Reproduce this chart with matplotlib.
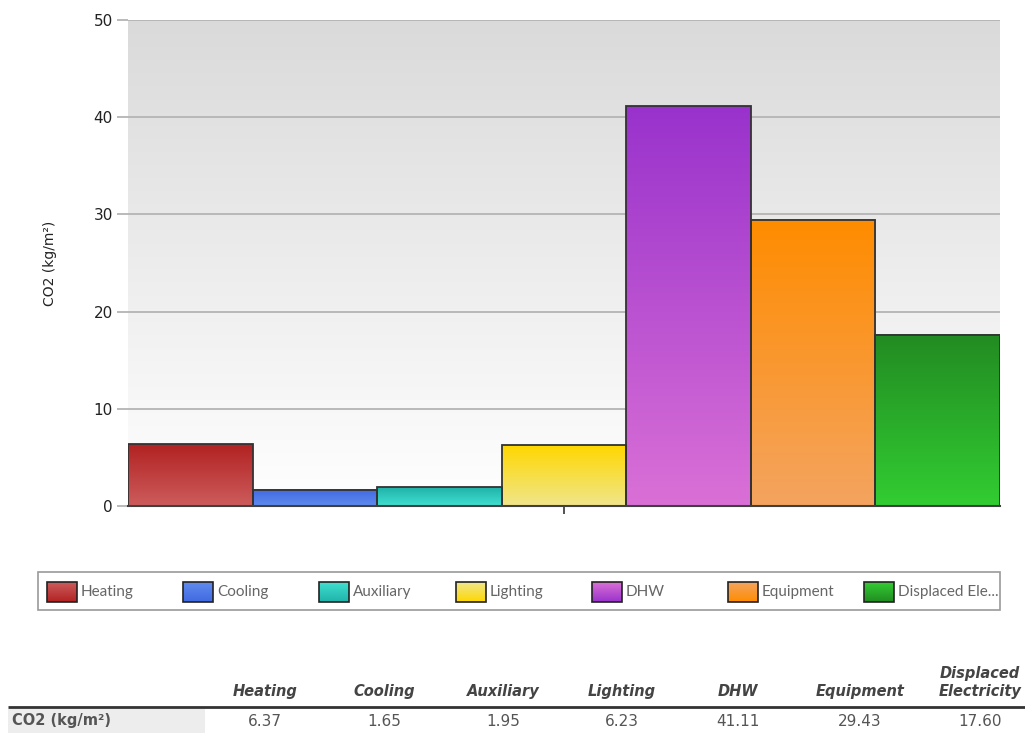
import numpy as np
import matplotlib
matplotlib.use("Agg")
import matplotlib.pyplot as plt
from matplotlib.colors import LinearSegmentedColormap

categories = ["Heating", "Cooling", "Auxiliary", "Lighting", "DHW", "Equipment", "Displaced Electricity"]
values = [6.37, 1.65, 1.95, 6.23, 41.11, 29.43, 17.60]
value_labels = ["6.37", "1.65", "1.95", "6.23", "41.11", "29.43", "17.60"]
top_colors = ["#b22222", "#4169e1", "#20b2aa", "#ffd700", "#9932cc", "#ff8c00", "#228b22"]
bottom_colors = ["#cd5c5c", "#5f8cef", "#40e0d0", "#f0e68c", "#da70d6", "#f4a460", "#32cd32"]
yticks = [0, 10, 20, 30, 40, 50]
ylabel = "CO2 (kg/m²)"
row_label = "CO2 (kg/m²)"

W, H = 1025, 733
fig = plt.figure(figsize=(W / 100, H / 100), dpi=100)
fig.patch.set_facecolor("white")

ax = fig.add_axes([128 / W, 1 - 506 / H, (1000 - 128) / W, (506 - 20) / H])
ax.set_xlim(-0.5, len(categories) - 0.5)
ax.set_ylim(0, 50)

# background gradient
bg = LinearSegmentedColormap.from_list("bg", ["#ffffff", "#dadada"])
grad = np.linspace(0, 1, 256).reshape(-1, 1)
ax.imshow(grad, extent=(-0.5, len(categories) - 0.5, 0, 50), origin="lower",
          cmap=bg, aspect="auto", zorder=0)

for y in yticks[1:]:
    ax.axhline(y, color="#b4b4b4", lw=1.3, zorder=1)

x = np.arange(len(categories))
bars = ax.bar(x, values, width=1.0, facecolor="none", edgecolor="#333333", lw=1.3, zorder=4)
for b, v, ct, cb in zip(bars, values, top_colors, bottom_colors):
    cm = LinearSegmentedColormap.from_list("g", [cb, ct])
    ax.imshow(grad, extent=(b.get_x(), b.get_x() + b.get_width(), 0, v), origin="lower",
              cmap=cm, aspect="auto", zorder=3)
ax.set_xlim(-0.5, len(categories) - 0.5)
ax.set_ylim(0, 50)

for s in ["top", "right", "left"]:
    ax.spines[s].set_visible(False)
ax.spines["bottom"].set_color("#404040")
ax.spines["bottom"].set_linewidth(1.5)
ax.spines["bottom"].set_zorder(5)

ax.set_yticks(yticks)
ax.set_yticklabels([str(t) for t in yticks], fontsize=11, color="#222222")
ax.tick_params(axis="y", length=8, width=1.3, color="#b4b4b4", pad=3)
ax.set_xticks([(len(categories) - 1) / 2])
ax.set_xticklabels([""])
ax.tick_params(axis="x", length=6, width=1.2, color="#333333")
ax.set_ylabel(ylabel, fontsize=10, color="#222222", labelpad=26)

# overlay for legend and table (pixel coordinates)
ov = fig.add_axes([0, 0, 1, 1], zorder=10)
ov.set_xlim(0, W)
ov.set_ylim(H, 0)
ov.axis("off")
ov.patch.set_alpha(0)

# legend box
ov.add_patch(plt.Rectangle((38, 572), 962, 38, facecolor="white", edgecolor="#9a9a9a", lw=1.2))
for i, (c, ct, cb) in enumerate(zip(categories, top_colors, bottom_colors)):
    x0 = 47 + i * 136.2
    cm = LinearSegmentedColormap.from_list("g", [ct, cb])
    ov.imshow(grad, extent=(x0, x0 + 30, 602, 582), origin="lower", cmap=cm, aspect="auto", zorder=11)
    ov.add_patch(plt.Rectangle((x0, 582), 30, 20, facecolor="none", edgecolor="#222222", lw=1.2, zorder=12))
    lab = c if len(c) <= 15 else c[:13] + "..."
    ov.text(x0 + 34, 592, lab, fontsize=11, family="Lato", color="#666666", va="center", ha="left")

# table
col_x = [265, 384, 503, 622, 738, 860, 980]
for cx, c in zip(col_x, categories):
    lab = c.replace(" ", "\n") if len(c) > 15 else c
    ov.text(cx, 699, lab, fontsize=10.5, family="DejaVu Sans", style="italic", weight="bold",
            color="#444444", ha="center", va="bottom", linespacing=1.25)
ov.plot([8, W], [707, 707], color="#333333", lw=2, solid_capstyle="butt")
ov.add_patch(plt.Rectangle((8, 709), 197, 24, facecolor="#ededed", edgecolor="none"))
ov.text(12, 721, row_label, fontsize=10.5, weight="bold", color="#555555", va="center", ha="left")
for cx, vl in zip(col_x, value_labels):
    ov.text(cx, 721, vl, fontsize=11, color="#555555", ha="center", va="center")

fig.savefig("out.png", dpi=100)
